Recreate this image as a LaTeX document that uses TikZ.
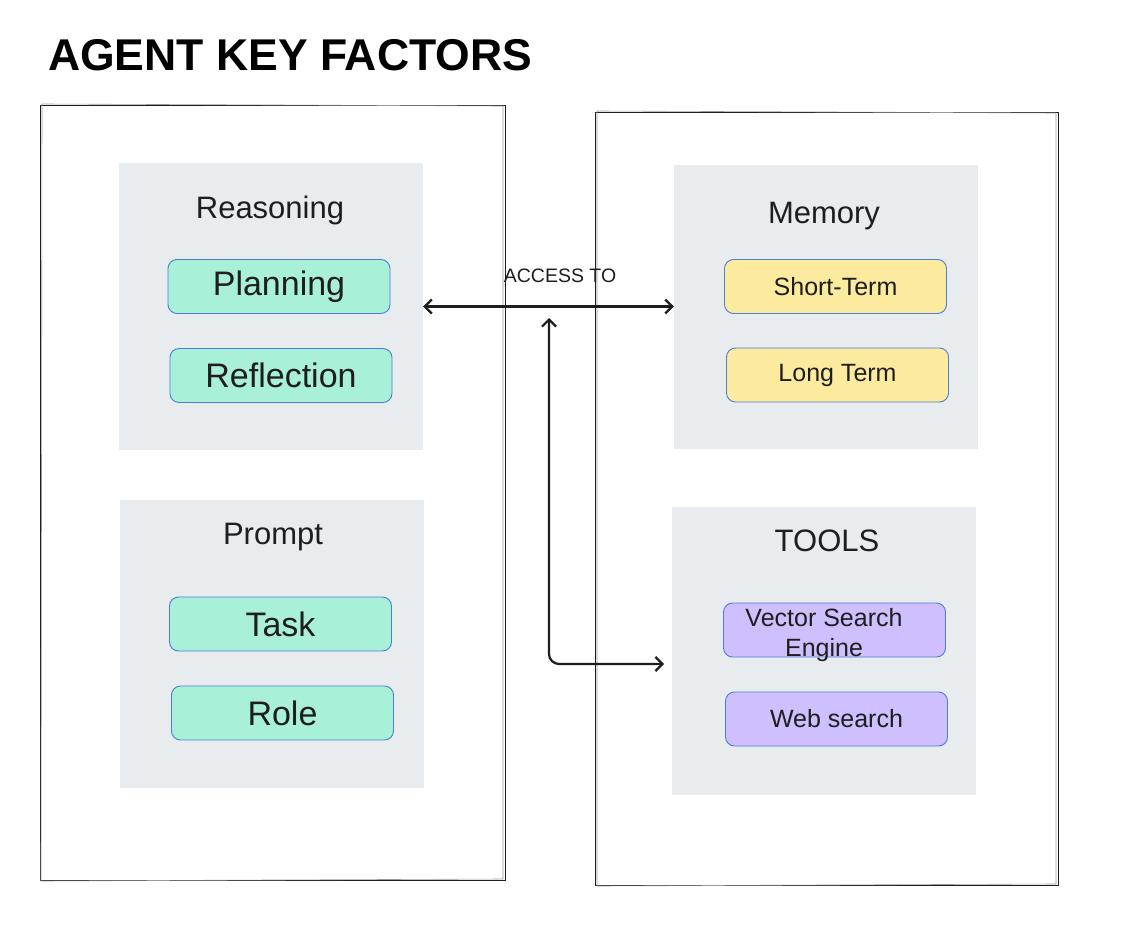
\documentclass[tikz,border=0pt]{standalone}
\usepackage{fontspec}
\setmainfont{Liberation Sans}
\usetikzlibrary{arrows.meta}
\definecolor{panelgray}{HTML}{E9ECEF}
\definecolor{pillgreen}{HTML}{A9F0D9}
\definecolor{pillyellow}{HTML}{FCEA9E}
\definecolor{pillpurple}{HTML}{D0BFFF}
\definecolor{pillborder}{HTML}{4A7FD4}
\definecolor{inkblack}{HTML}{1E1E1E}
\tikzset{
  frame/.style={draw=inkblack, line width=0.9pt, inner sep=0pt},
  frameghost/.style={draw=black!40, line width=0.6pt},
  panel/.style={fill=panelgray, draw=none, inner sep=0pt, minimum width=304pt},
  sectitle/.style={text=inkblack, font=\fontsize{31}{34}\selectfont, inner sep=0pt},
  pill/.style={draw=pillborder, line width=0.9pt, rounded corners=9pt, inner sep=0pt,
    minimum width=222pt, minimum height=54pt, text=inkblack},
  bigpill/.style={pill, font=\fontsize{34}{36}\selectfont},
  smallpill/.style={pill, font=\fontsize{25}{30}\selectfont},
  conn/.style={draw=inkblack, line width=2.2pt,
    {Straight Barb[length=7pt,width=14pt]}-{Straight Barb[length=7pt,width=14pt]}},
  lbl/.style={text=inkblack, font=\fontsize{19.5}{22}\selectfont, inner sep=0pt}
}
\begin{document}
\begin{tikzpicture}[x=1pt,y=-1pt]
\useasboundingbox (0,0) rectangle (1138,936);
\fill[white] (0,0) rectangle (1138,936);

% title
\node[text=black, font=\fontsize{44.5}{48}\selectfont\bfseries, anchor=west, inner sep=0pt] (title) at (48,55) {AGENT KEY FACTORS};

% frames
\node[frame, minimum width=465pt, minimum height=775pt] (lframe) at (272.5,492.5) {};
\draw[frameghost] (42,104) -- (503,106) -- (503,879) -- (41,881) -- cycle;
\node[frame, minimum width=463pt, minimum height=773pt] (rframe) at (826.5,498.5) {};
\draw[frameghost] (597,111) -- (1056,113) -- (1056,884) -- (597,886) -- cycle;

% panels
\node[panel, minimum height=287pt] (reason) at (271,306.5) {};
\node[panel, minimum height=288pt] (prompt) at (271.5,644) {};
\node[panel, minimum height=284pt] (memory) at (826,307) {};
\node[panel, minimum height=288pt] (tools) at (824,651) {};

% panel titles
\node[sectitle] (reasonT) at (270,210) {Reasoning};
\node[sectitle] (promptT) at (273,537) {Prompt};
\node[sectitle] (memoryT) at (824,216) {Memory};
\node[sectitle] (toolsT) at (827,541) {TOOLS};

% pills
\node[bigpill, fill=pillgreen] (plan) at (279,286.5) {Planning};
\node[bigpill, fill=pillgreen] (refl) at (281,375.5) {Reflection};
\node[bigpill, fill=pillgreen] (task) at (280.5,624) {Task};
\node[bigpill, fill=pillgreen] (role) at (282.5,713) {Role};

\node[smallpill, fill=pillyellow] (short) at (835.5,286.5) {Short-Term};
\node[smallpill, fill=pillyellow] (long) at (837.5,375) {Long Term};

\node[smallpill, fill=pillpurple] (vec) at (834.5,630) {};
\node[text=inkblack, font=\fontsize{25}{30}\selectfont, align=center, inner sep=0pt] (vecT) at (824,635) {Vector Search\\Engine};
\node[smallpill, fill=pillpurple] (web) at (836.5,719) {Web search};

% connectors
\coordinate (accTop) at (549,318);
\coordinate (toolsIn) at (664,664);
\draw[conn] (reason.east) -- (reason.east -| memory.west);
\node[lbl] (acc) at (560,276) {ACCESS TO};
\draw[conn, rounded corners=10pt] (accTop) |- (toolsIn);
\end{tikzpicture}
\end{document}
